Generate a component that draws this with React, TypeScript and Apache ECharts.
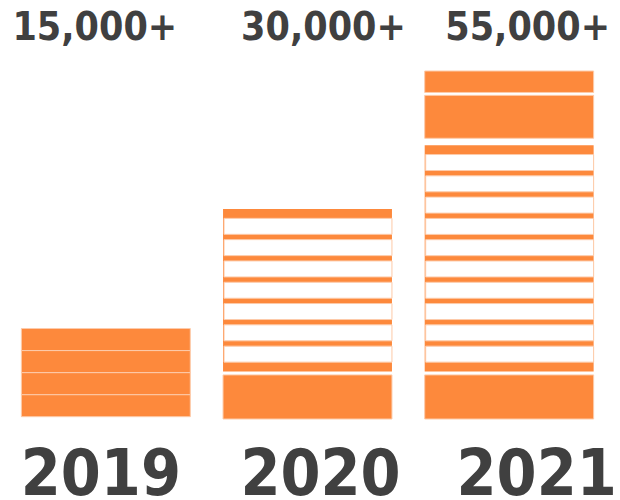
import React, { useEffect, useRef } from "react";
import * as echarts from "echarts";

// Categories and label texts
const years = ["2019", "2020", "2021"];
const totals = ["15,000+", "30,000+", "55,000+"];

// Solid blocks: [year index, from, to]
const solidBlocks = [
  [0, 0.4, 4.2],
  [0, 4.2, 8.0],
  [0, 8.0, 11.8],
  [0, 11.8, 15.6],
  [1, 0, 7.6],
  [2, 0, 7.6],
  [2, 48.4, 55.8],
  [2, 56.3, 60],
];

// Striped blocks: [year index, from, to, number of white stripes]
const stripedBlocks = [
  [1, 8.2, 36.2, 7],
  [2, 8.2, 47.2, 10],
];

const ORANGE = "#FD893C";
const EDGE = "#FDCBAA";
const TEXT = "#404040";
const FONT = '"DejaVu Sans Condensed", "DejaVu Sans", sans-serif';

const bottomPad = [
  [0, 10, 0, 0],
  [0, 0, 0, 26],
  [0, 0, 0, 55],
];
const topPad = [
  [0, 22, 0, 0],
  [0, 0, 0, 32],
  [0, 0, 0, 37],
];

function richFor(pads: number[][], size: number, lineHeight: number) {
  const r: Record<string, any> = {};
  pads.forEach((p, i) => {
    r["l" + i] = {
      fontSize: size,
      lineHeight,
      fontWeight: "bold",
      fontFamily: FONT,
      color: TEXT,
      padding: p,
    };
  });
  return r;
}

export default function App() {
  const ref = useRef<HTMLDivElement>(null);
  useEffect(() => {
    if (!ref.current) return;
    const chart = echarts.init(ref.current, null, { renderer: "svg" });
    const barRatio = 0.8377;
    const option: any = {
      animation: false,
      backgroundColor: "#ffffff",
      grid: { left: 5, right: 10, top: 71, bottom: 81, outerBoundsMode: "none", containLabel: false },
      xAxis: [
        {
          type: "category",
          data: years,
          position: "bottom",
          axisLine: { show: false },
          axisTick: { show: false },
          axisLabel: {
            interval: 0,
            margin: 28,
            formatter: (v: string) => `{l${years.indexOf(v)}|${v}}`,
            rich: richFor(bottomPad, 64, 52),
          },
        },
        {
          type: "category",
          data: totals,
          position: "top",
          axisLine: { show: false },
          axisTick: { show: false },
          axisLabel: {
            interval: 0,
            margin: 25,
            formatter: (v: string) => `{l${totals.indexOf(v)}|${v}}`,
            rich: richFor(topPad, 39, 40),
          },
        },
      ],
      yAxis: {
        type: "value",
        min: 0,
        max: 60,
        show: false,
        splitLine: { show: false },
      },
      series: [
        {
          type: "custom",
          name: "solid",
          encode: { x: 0, y: [1, 2] },
          data: solidBlocks,
          renderItem: (params: any, api: any) => {
            const cat = api.value(0);
            const lo = api.coord([cat, api.value(1)]);
            const hi = api.coord([cat, api.value(2)]);
            const w = api.size([1, 0])[0] * barRatio;
            return {
              type: "rect",
              shape: { x: hi[0] - w / 2, y: hi[1], width: w, height: lo[1] - hi[1] },
              style: { fill: ORANGE, stroke: EDGE, lineWidth: 1 },
            };
          },
        },
        {
          type: "custom",
          name: "striped",
          encode: { x: 0, y: [1, 2] },
          data: stripedBlocks,
          renderItem: (params: any, api: any) => {
            const cat = api.value(0);
            const n = api.value(3);
            const lo = api.coord([cat, api.value(1)]);
            const hi = api.coord([cat, api.value(2)]);
            const w = api.size([1, 0])[0] * barRatio;
            const x = hi[0] - w / 2;
            const y = hi[1];
            const h = lo[1] - hi[1];
            const edge = 9.3;
            const gap = 5.3;
            const sh = (h - 2 * edge - (n - 1) * gap) / n;
            const children: any[] = [
              {
                type: "rect",
                shape: { x, y, width: w, height: h },
                style: { fill: ORANGE },
              },
            ];
            for (let i = 0; i < n; i++) {
              children.push({
                type: "rect",
                shape: { x: x + 1, y: y + edge + i * (sh + gap), width: w - 1, height: sh },
                style: { fill: "#ffffff", stroke: EDGE, lineWidth: 1 },
              });
            }
            return { type: "group", children };
          },
        },
      ],
    };
    chart.setOption(option);
    return () => chart.dispose();
  }, []);
  return (
    <div
      ref={ref}
      style={{ position: "fixed", left: 0, top: 0, width: 620, height: 500 }}
    />
  );
}
